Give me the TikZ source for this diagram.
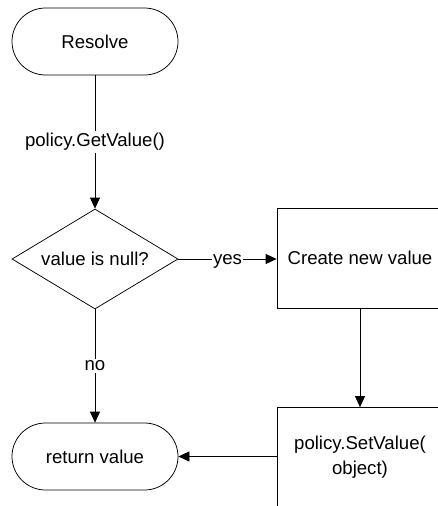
\documentclass[tikz,border=0pt]{standalone}
\usepackage{fontspec}
\setmainfont{Liberation Sans}
\usetikzlibrary{shapes.geometric,arrows.meta}
\tikzset{
  base/.style={draw=black, line width=0.75pt, font=\fontsize{18.6}{25}\selectfont, text=black, inner sep=0pt, align=center},
  terminal/.style={base, rectangle, rounded corners=33.5pt, minimum width=166pt, minimum height=67pt},
  decision/.style={base, diamond, shape aspect=1.66, minimum width=166pt, minimum height=100pt},
  process/.style={base, rectangle, minimum width=166pt, minimum height=100pt},
  conn/.style={line width=0.75pt, draw=black, -{Triangle[length=11pt,width=10pt]}},
  lbl/.style={fill=white, font=\fontsize{18.6}{22}\selectfont, inner sep=2pt, text=black}
}
\begin{document}
\begin{tikzpicture}[x=1pt,y=-1pt]
\useasboundingbox (0,0) rectangle (438,506);
\clip (0,0) rectangle (438,506);
\fill[white] (0,0) rectangle (438,506);
\node[terminal] (resolve) at (95,41.5) {Resolve};
\node[decision] (null) at (95,259) {value is null?};
\node[process] (create) at (360,258) {Create new value};
\node[process] (setv) at (360,457.5) {policy.SetValue(\\object)};
\node[terminal] (ret) at (95,456.5) {return value};
\draw[conn] (resolve.south) -- node[lbl] {policy.GetValue()} (null.north);
\draw[conn] (null.east) -- node[lbl, anchor=base, yshift=-5pt, inner sep=1pt] {yes} (create.west |- null.east);
\draw[conn] (null.south) -- node[lbl] {no} (ret.north);
\draw[conn] (create.south) -- (setv.north);
\draw[conn] (setv.west |- ret.east) -- (ret.east);
\end{tikzpicture}
\end{document}
